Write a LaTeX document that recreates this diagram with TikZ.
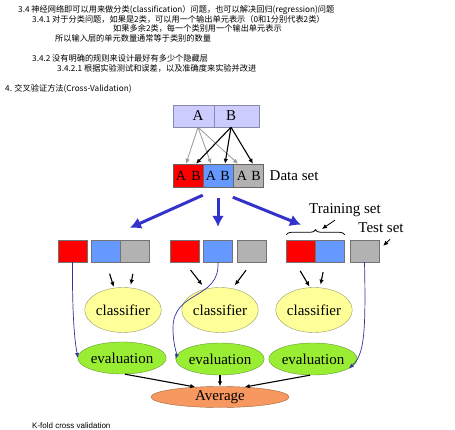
\documentclass[tikz,border=0pt]{standalone}
\usepackage{fontspec}
\setmainfont{Liberation Serif}
\newfontfamily\cjk{Noto Sans CJK SC}
\newfontfamily\plainsans{Liberation Sans}
\usetikzlibrary{arrows.meta,positioning,shapes.geometric,decorations.pathreplacing,calc}
\definecolor{foldRed}{HTML}{FF0000}
\definecolor{foldBlue}{HTML}{6699FF}
\definecolor{foldGray}{HTML}{B2B2B2}
\definecolor{splitBlue}{HTML}{3333CC}
\definecolor{testBlue}{HTML}{333399}
\definecolor{srcLavender}{HTML}{CCCCFF}
\definecolor{srcEdge}{HTML}{8888AA}
\definecolor{clsYellow}{HTML}{FFFF99}
\definecolor{clsEdge}{HTML}{999966}
\definecolor{evalGreen}{HTML}{99EE33}
\definecolor{evalEdge}{HTML}{669933}
\definecolor{avgOrange}{HTML}{F79860}
\definecolor{avgEdge}{HTML}{996633}
\tikzset{
  notes/.style={anchor=base west, inner sep=0pt, font=\cjk\fontsize{8.2}{9}\selectfont},
  bigtext/.style={font=\fontsize{15}{15}\selectfont},
  srcbox/.style={draw=srcEdge, fill=srcLavender, minimum height=22pt, inner sep=0pt},
  datacell/.style={draw=black!60, minimum width=30pt, minimum height=23pt, inner sep=0pt},
  letter/.style={inner sep=0pt, font=\fontsize{14}{14}\selectfont},
  foldbox/.style={draw=black!55, minimum width=29pt, minimum height=22pt, inner sep=0pt},
  clsnode/.style={ellipse, draw=clsEdge, fill=clsYellow, minimum width=62pt, minimum height=45pt, inner sep=0pt, bigtext},
  evalnode/.style={ellipse, draw=evalEdge, fill=evalGreen, minimum width=71pt, minimum height=32pt, inner sep=0pt, bigtext},
  avgnode/.style={ellipse, draw=avgEdge, fill=avgOrange, minimum width=138pt, minimum height=21pt, inner sep=0pt, bigtext},
  arr/.style={-{Latex[length=5pt,width=4.5pt]}, line width=1.1pt},
  grayarr/.style={arr, draw=black!40, line width=0.8pt},
  splitarr/.style={-{Latex[length=11pt,width=12pt]}, line width=3pt, splitBlue},
  testline/.style={-{Latex[length=5pt,width=4pt]}, line width=0.7pt, testBlue}
}
\begin{document}
\begin{tikzpicture}[x=1pt, y=-1pt]
  \useasboundingbox[fill=white] (0,0) rectangle (455,430);
  \node[notes] (n1) at (18,13) {3.4 神经网络即可以用来做分类(classification）问题，也可以解决回归(regression)问题};
  \node[notes] (n2) at (32,23) {3.4.1 对于分类问题，如果是2类，可以用一个输出单元表示（0和1分别代表2类）};
  \node[notes] (n3) at (113,32) {如果多余2类，每一个类别用一个输出单元表示};
  \node[notes] (n4) at (55,42) {所以输入层的单元数量通常等于类别的数量};
  \node[notes] (n5) at (32,62) {3.4.2 没有明确的规则来设计最好有多少个隐藏层};
  \node[notes] (n6) at (57,72) {3.4.2.1 根据实验测试和误差，以及准确度来实验并改进};
  \node[notes] (n7) at (5,92) {4. 交叉验证方法(Cross-Validation)};
  \node[anchor=base west, inner sep=0pt, font=\plainsans\fontsize{8}{9}\selectfont] (caption) at (32,428) {K-fold cross validation};

  \node[srcbox, minimum width=41pt] (srcA) at (193.5,116) {};
  \node[srcbox, minimum width=45pt] (srcB) at (236.5,116) {};
  \node[letter, bigtext] (lA) at (198,116) {A};
  \node[letter, bigtext] (lB) at (231,116) {B};

  \node[datacell, fill=foldRed] (ds1) at (188,175.5) {};
  \node[datacell, fill=foldBlue] (ds2) at (218,175.5) {};
  \node[datacell, fill=foldGray] (ds3) at (248,175.5) {};
  \node[letter] (dA1) at (181,175.5) {A};
  \node[letter] (dB1) at (196,175.5) {B};
  \node[letter] (dA2) at (211,175.5) {A};
  \node[letter] (dB2) at (225,175.5) {B};
  \node[letter] (dA3) at (242,175.5) {A};
  \node[letter] (dB3) at (256,175.5) {B};
  \node[bigtext, right=3pt of ds3] (dslbl) {Data set};

  \draw[grayarr] (lA |- srcA.south) -- ([xshift=5pt]dA1 |- ds1.north);
  \draw[grayarr] (lA |- srcA.south) -- (dA2 |- ds2.north);
  \draw[grayarr] (lA |- srcA.south) -- ([xshift=-4pt]dA3 |- ds3.north);
  \draw[arr] (lB |- srcB.south) -- (dB1 |- ds1.north);
  \draw[arr] (lB |- srcB.south) -- (dB2 |- ds2.north);
  \draw[arr] (lB |- srcB.south) -- ([xshift=-3pt]dB3 |- ds3.north);

  \node[foldbox, fill=foldRed] (f1r) at (72.5,251) {};
  \node[foldbox, fill=foldBlue] (f1b) at (106,251) {};
  \node[foldbox, fill=foldGray] (f1g) at (135,251) {};
  \node[foldbox, fill=foldRed] (f2r) at (184.5,251) {};
  \node[foldbox, fill=foldBlue] (f2b) at (218,251) {};
  \node[foldbox, fill=foldGray] (f2g) at (252,251) {};
  \node[foldbox, fill=foldRed] (f3r) at (301,251) {};
  \node[foldbox, fill=foldBlue] (f3b) at (330,251) {};
  \node[foldbox, fill=foldGray] (f3g) at (364.5,251) {};

  \draw[splitarr] ([yshift=-8pt]ds2.south west) -- ([shift={(-5pt,12pt)}]f1g.north);
  \draw[splitarr] ([yshift=-11pt]ds2.south) -- ([yshift=13pt]f2b.north);
  \draw[splitarr] ([yshift=-10pt]ds3.south west) -- ([yshift=15pt]f3r.north);

  \draw[decorate, decoration={brace, amplitude=5pt}, line width=0.8pt] ([yshift=5pt]f3r.north west) -- ([yshift=5pt]f3b.north east);
  \coordinate (trainTip) at (322,229);
  \node[bigtext] (trainlbl) at (345,210) {Training set};
  \node[bigtext] (testlbl) at (381,228) {Test set};
  \draw[arr, line width=0.8pt] ([xshift=-10pt]trainlbl.south) -- (trainTip);
  \draw[arr, line width=0.8pt, shorten <=4pt] ([xshift=12pt]testlbl.south) -- ([shift={(4pt,-6pt)}]f3g.north east);

  \node[clsnode] (cls1) at (123,310) {classifier};
  \node[clsnode] (cls2) at (220,310) {classifier};
  \node[clsnode] (cls3) at (314,310) {classifier};
  \node[evalnode] (ev1) at (122,358) {evaluation};
  \node[evalnode] (ev2) at (220,359) {evaluation};
  \node[evalnode] (ev3) at (313,359) {evaluation};
  \node[avgnode] (avg) at (220,397) {Average};

  \draw[arr, shorten <=12pt, shorten >=1pt] (f1b.south) -- (cls1.112);
  \draw[arr, shorten <=12pt, shorten >=3pt] (f1g.south) -- (cls1.72);
  \draw[arr, shorten <=10pt, shorten >=5pt] (f2r.south) -- (cls2.125);
  \draw[arr, shorten <=10pt, shorten >=4pt] (f2g.south) -- (cls2.60);
  \draw[arr, shorten <=10pt, shorten >=1pt] ([xshift=-6pt]f3r.south) -- (cls3.100);
  \draw[arr, shorten <=10pt, shorten >=3pt] ([xshift=-5pt]f3b.south) -- (cls3.75);

  \draw[testline] (f1r.south) .. controls (72,335) and (77,352) .. (ev1.west);
  \draw[testline] (f2b.south) .. controls (220,300) and (173,290) .. (173,328) .. controls (173,345) and (177,354) .. (ev2.west);
  \draw[testline] (f3g.south) .. controls (366,335) and (364,355) .. (ev3.-15);

  \draw[arr] (ev1.-80) -- (avg.158);
  \draw[arr] (ev2.south) -- (avg.north);
  \draw[arr] (ev3.-100) -- (avg.22);
\end{tikzpicture}
\end{document}
